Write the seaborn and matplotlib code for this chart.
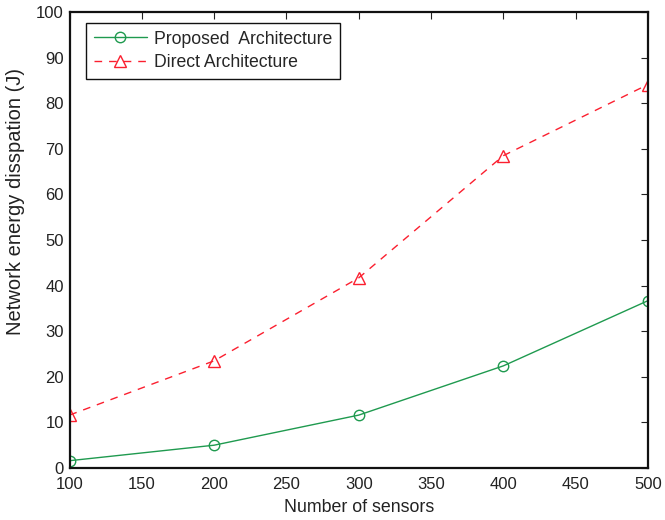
import matplotlib
matplotlib.use("Agg")
import matplotlib.pyplot as plt
import seaborn as sns
import pandas as pd

sensors = [100, 200, 300, 400, 500]
proposed = [1.6, 5.0, 11.6, 22.4, 36.7]
direct = [11.6, 23.5, 41.7, 68.5, 84.1]
x_ticks = [100, 150, 200, 250, 300, 350, 400, 450, 500]
y_ticks = [0, 10, 20, 30, 40, 50, 60, 70, 80, 90, 100]

sns.set_theme(style="white")
plt.rcParams['font.family'] = ['Liberation Sans', 'DejaVu Sans']

fig = plt.figure(figsize=(6.65, 5.2), dpi=100)
ax = fig.add_axes([69.5 / 665, 52 / 520, 578.5 / 665, 456 / 520])

df1 = pd.DataFrame({"x": sensors, "y": proposed})
df2 = pd.DataFrame({"x": sensors, "y": direct})
green = "#1f9a4f"
red = "#fb1f2f"
sns.lineplot(data=df1, x="x", y="y", ax=ax, color=green, lw=1.0, marker="o",
             markersize=7.5, markerfacecolor="none", markeredgecolor=green,
             markeredgewidth=1.0, label="Proposed  Architecture")
sns.lineplot(data=df2, x="x", y="y", ax=ax, color=red, lw=1.0, marker="^",
             markersize=8.5, markerfacecolor="none", markeredgecolor=red,
             markeredgewidth=1.0, label="Direct Architecture")
ax.lines[-1].set_linestyle((0, (5.5, 5)))

ax.set_xlim(100, 500)
ax.set_ylim(0, 100)
ax.set_xticks(x_ticks)
ax.set_yticks(y_ticks)
ax.tick_params(direction="in", length=5, width=0.8, top=True, right=True,
               labelsize=12, colors="#222222")
ax.tick_params(axis="x", pad=6.5)
ax.tick_params(axis="y", pad=4)
for s in ax.spines.values():
    s.set_visible(True)
    s.set_color("#111111")
    s.set_linewidth(1.6)
ax.set_xlabel("Number of sensors", fontsize=12.8, color="#222222")
ax.xaxis.set_label_coords(0.5, -0.068)
ax.xaxis.label.set_va("top")
ax.set_ylabel("Network energy disspation (J)", fontsize=14.5, color="#222222")
ax.yaxis.set_label_coords(-0.077, 0.585)

leg = ax.legend(loc="upper left", bbox_to_anchor=(0.0285, 0.9765), borderaxespad=0,
                fontsize=12.7, frameon=True, fancybox=False, framealpha=1,
                edgecolor="#111111", handlelength=3.0, borderpad=0.45,
                labelspacing=0.35, handletextpad=0.4)
leg.get_frame().set_linewidth(1.0)

fig.savefig("out.png", dpi=100)
